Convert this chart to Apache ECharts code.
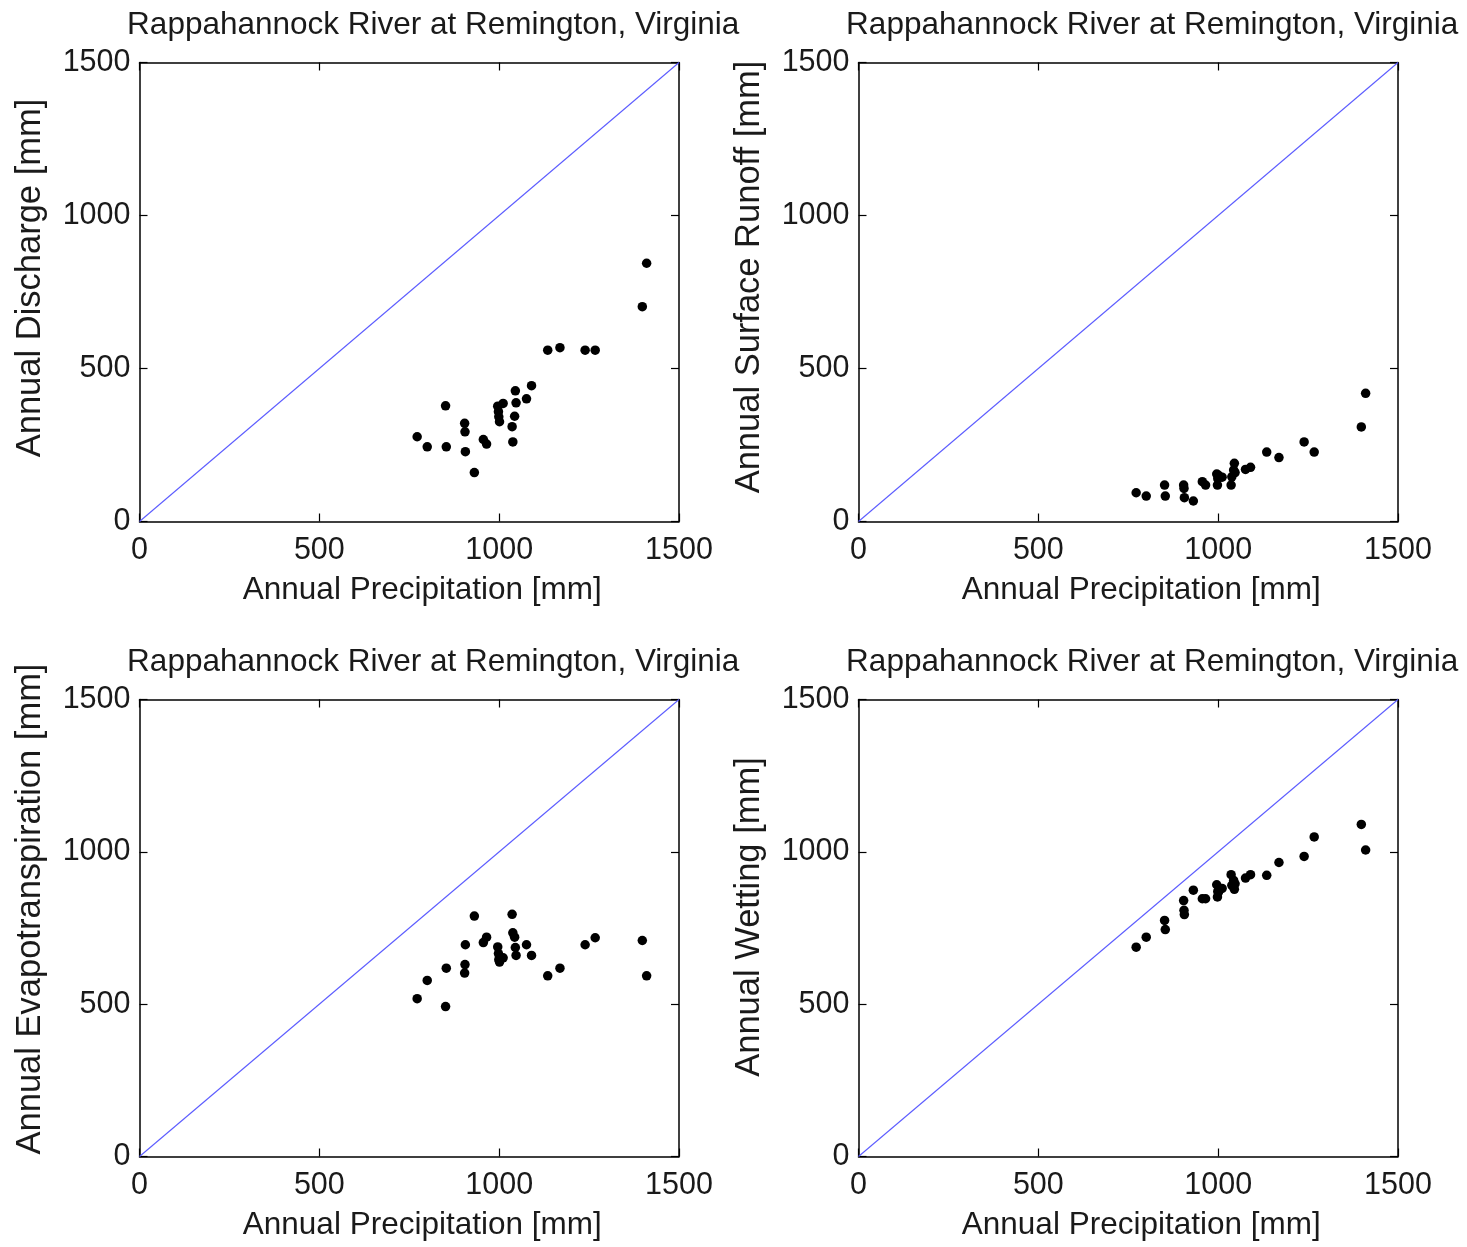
<!DOCTYPE html>
<html>
<head>
<meta charset="utf-8">
<title>Rappahannock River at Remington, Virginia</title>
<script src="https://cdn.jsdelivr.net/npm/echarts@6/dist/echarts.min.js"></script>
<style>
  html, body { margin: 0; padding: 0; background: #fff; }
  #chart { width: 1467px; height: 1247px; }
</style>
</head>
<body>
<div id="chart"></div>
<script>
// Annual water balance components vs. annual precipitation (mm), one entry per year.
const precipitation = [772, 800, 851, 853, 904, 905, 906, 931, 956, 965,
  996, 998, 999, 1001, 1011, 1036, 1038, 1043, 1045, 1047,
  1076, 1090, 1135, 1169, 1239, 1267, 1398, 1410];
const discharge = [277, 244, 378, 244, 321, 293, 228, 160, 268, 253,
  377, 359, 342, 326, 386, 310, 260, 344, 427, 388,
  401, 444, 560, 568, 560, 560, 702, 844];
const surfaceRunoff = [94, 83, 119, 83, 119, 108, 78, 67, 130, 119,
  155, 119, 140, 151, 145, 119, 146, 168, 190, 160,
  170, 177, 227, 209, 260, 227, 309, 419];
const evapotranspiration = [518, 578, 492, 618, 602, 630, 695, 789, 702, 720,
  688, 666, 646, 638, 652, 795, 734, 720, 686, 660,
  695, 660, 593, 618, 695, 718, 709, 593];
const wetting = [687, 720, 775, 745, 840, 808, 794, 874, 846, 846,
  892, 852, 870, 868, 880, 925, 890, 906, 877, 895,
  914, 925, 923, 965, 985, 1049, 1090, 1006];
const axisTicks = [0, 500, 1000, 1500];

const stationTitle = 'Rappahannock River at Remington, Virginia';
const xTitle = 'Annual Precipitation [mm]';

const FONT = '"Liberation Sans", Arial, Helvetica, sans-serif';
const INK = '#1a1a1a';

const panels = [
  { yName: 'Annual Discharge [mm]', values: discharge, left: 139.5, top: 62.5, height: 459, yShift: 14 },
  { yName: 'Annual Surface Runoff [mm]', values: surfaceRunoff, left: 858.5, top: 62.5, height: 459, yShift: 15 },
  { yName: 'Annual Evapotranspiration [mm]', values: evapotranspiration, left: 139.5, top: 699.5, height: 457, yShift: 19 },
  { yName: 'Annual Wetting [mm]', values: wetting, left: 858.5, top: 699.5, height: 457, yShift: 11 }
];
const plotWidth = 539.5;

const grid = [], xAxis = [], yAxis = [], series = [], graphic = [];

const axisMin = axisTicks[0];
const axisMax = axisTicks[axisTicks.length - 1];
const axisStep = axisTicks[1] - axisTicks[0];

const frameLine = { show: true, onZero: false, lineStyle: { color: '#000', width: 1.5 } };
const innerTick = { show: true, inside: true, length: 8, lineStyle: { color: '#000', width: 1.2 } };
const plainNumber = v => String(v);

panels.forEach((p, i) => {
  grid.push({ left: p.left, top: p.top, width: plotWidth, height: p.height, containLabel: false });

  // bottom / left axes carry labels; top / right copies close the box
  xAxis.push({
    gridIndex: i, type: 'value', min: axisMin, max: axisMax, interval: axisStep,
    position: 'bottom',
    axisLine: frameLine, axisTick: innerTick, splitLine: { show: false },
    axisLabel: { color: INK, fontFamily: FONT, fontSize: 30.5, margin: 14, formatter: plainNumber },
    name: xTitle, nameLocation: 'middle', nameGap: 53,
    nameTextStyle: { color: INK, fontFamily: FONT, fontSize: 31.5, padding: [0, 0, 0, 26] }
  });
  xAxis.push({
    gridIndex: i, type: 'value', min: axisMin, max: axisMax, interval: axisStep,
    position: 'top',
    axisLine: frameLine, axisTick: innerTick, splitLine: { show: false }, axisLabel: { show: false }
  });
  yAxis.push({
    gridIndex: i, type: 'value', min: axisMin, max: axisMax, interval: axisStep,
    position: 'left',
    axisLine: frameLine, axisTick: innerTick, splitLine: { show: false },
    axisLabel: { color: INK, fontFamily: FONT, fontSize: 30.5, margin: 9, formatter: plainNumber },
    name: p.yName, nameLocation: 'middle', nameGap: 92,
    nameTextStyle: { color: INK, fontFamily: FONT, fontSize: 34.5, padding: [0, 0, 0, 2 * p.yShift] }
  });
  yAxis.push({
    gridIndex: i, type: 'value', min: axisMin, max: axisMax, interval: axisStep,
    position: 'right',
    axisLine: frameLine, axisTick: innerTick, splitLine: { show: false }, axisLabel: { show: false }
  });

  // 1:1 reference line
  series.push({
    type: 'line', xAxisIndex: 2 * i, yAxisIndex: 2 * i, silent: true, symbol: 'none',
    data: [[axisMin, axisMin], [axisMax, axisMax]],
    lineStyle: { color: '#5c5cff', width: 1.1 }, z: 2
  });
  // yearly values
  series.push({
    type: 'scatter', xAxisIndex: 2 * i, yAxisIndex: 2 * i, symbol: 'circle', symbolSize: 9.5,
    itemStyle: { color: '#000', opacity: 1 }, z: 3,
    data: precipitation.map((v, k) => [v, p.values[k]])
  });

  graphic.push({
    type: 'text', x: p.left + plotWidth / 2 + 24, y: p.top - 37,
    style: { text: stationTitle, font: '31.5px ' + FONT, fill: INK,
             align: 'center', verticalAlign: 'middle', textAlign: 'center', textVerticalAlign: 'middle' }
  });
});

const chart = echarts.init(document.getElementById('chart'), null, { renderer: 'canvas' });
chart.setOption({
  backgroundColor: '#fff',
  animation: false,
  grid, xAxis, yAxis, series, graphic
});
</script>
</body>
</html>
